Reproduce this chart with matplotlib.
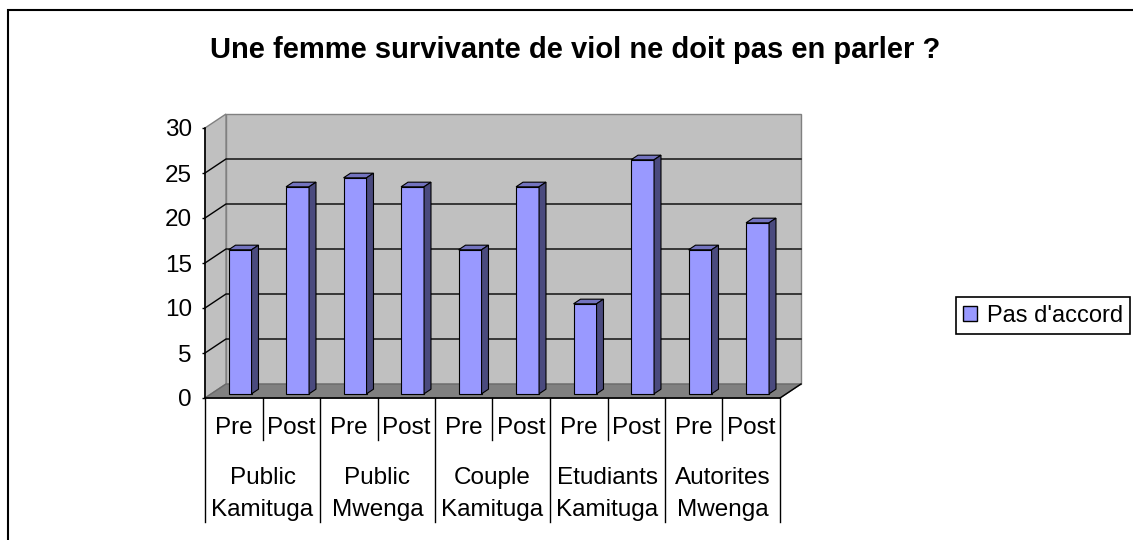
import matplotlib
matplotlib.use("Agg")
import matplotlib.pyplot as plt
import matplotlib.transforms as mtransforms
from matplotlib.patches import Polygon, Rectangle, Patch

plt.rcParams["font.family"] = ["Liberation Sans", "DejaVu Sans"]

# data
groups = ["Public\nKamituga", "Public\nMwenga", "Couple\nKamituga",
          "Etudiants\nKamituga", "Autorites\nMwenga"]
phases = ["Pre", "Post"]
pre_values = [16, 24, 16, 10, 16]
post_values = [23, 23, 23, 26, 19]
series_name = "Pas d'accord"
title = "Une femme survivante de viol ne doit pas en parler ?"
y_ticks = [0, 5, 10, 15, 20, 25, 30]

W, H = 1133, 540
FS = 17.5


def fx(px):
    return px / W


def fy(py):
    return 1 - py / H


fig = plt.figure(figsize=(W / 100, H / 100), dpi=100)
ax = fig.add_axes([fx(205), fy(398), 575 / W, 270 / H])

n_slots = len(groups) * len(phases)
ymax = 30
ax.set_xlim(0, n_slots)
ax.set_ylim(0, ymax)

# depth offsets of the fake 3d box, in data units
dxu = 21 / 57.5
dyu = 14 / 9.0

front_c = "#9999FF"
top_c = "#7373BF"
side_c = "#4A4A7E"
wall_c = "#C0C0C0"
floor_c = "#808080"

# walls and floor
back_wall = Polygon([(dxu, dyu), (n_slots + dxu, dyu), (n_slots + dxu, ymax + dyu), (dxu, ymax + dyu)],
                    closed=True, facecolor=wall_c, edgecolor="#808080", lw=1.0, clip_on=False, zorder=1)
side_wall = Polygon([(0, 0), (dxu, dyu), (dxu, ymax + dyu), (0, ymax)],
                    closed=True, facecolor=wall_c, edgecolor="#808080", lw=1.0, clip_on=False, zorder=1)
floor = Polygon([(0, 0), (n_slots, 0), (n_slots + dxu, dyu), (dxu, dyu)],
                closed=True, facecolor=floor_c, edgecolor="#6a6a6a", lw=1.0, clip_on=False, zorder=1)
for p in (back_wall, side_wall, floor):
    ax.add_patch(p)
ax.plot([n_slots, n_slots + dxu], [0, dyu], color="black", lw=1.0, clip_on=False, zorder=2)

for v in y_ticks[1:-1]:
    ax.plot([0, dxu, n_slots + dxu], [v, v + dyu, v + dyu], color="black", lw=1.0,
            clip_on=False, zorder=2)

# bars
values = []
for a, b in zip(pre_values, post_values):
    values += [a, b]
x = [i + 0.5 for i in range(n_slots)]
f0, depth, bw = 0.3, 0.33, 0.4
ax.bar([xi + f0 * dxu for xi in x], values, width=bw, bottom=f0 * dyu,
       color=front_c, edgecolor="black", lw=0.8, zorder=4, clip_on=False)
for xi, v in zip(x, values):
    xl = xi + f0 * dxu - bw / 2
    xr = xl + bw
    y0 = f0 * dyu
    y1 = y0 + v
    ddx, ddy = depth * dxu, depth * dyu
    top = Polygon([(xl, y1), (xr, y1), (xr + ddx, y1 + ddy), (xl + ddx, y1 + ddy)],
                  closed=True, facecolor=top_c, edgecolor="black", lw=0.8, zorder=4, clip_on=False)
    side = Polygon([(xr, y0), (xr, y1), (xr + ddx, y1 + ddy), (xr + ddx, y0 + ddy)],
                   closed=True, facecolor=side_c, edgecolor="black", lw=0.8, zorder=4, clip_on=False)
    ax.add_patch(top)
    ax.add_patch(side)

# axes styling
for s in ("top", "right", "bottom"):
    ax.spines[s].set_visible(False)
ax.spines["left"].set_linewidth(1.2)
ax.spines["left"].set_zorder(5)
ax.plot([0, n_slots], [0, 0], color="black", lw=1.2, clip_on=False, zorder=5)
ax.set_facecolor("none")
ax.set_yticks(y_ticks)
ax.set_yticklabels([str(t) for t in y_ticks], fontsize=FS)
ax.tick_params(axis="y", direction="out", length=2.5, width=1.0, pad=7)
ax.set_xticks([])

# multi-level category axis
trans = mtransforms.blended_transform_factory(ax.transData, fig.transFigure)
for i in range(n_slots + 1):
    bottom = 522 if i % 2 == 0 else 440
    ax.plot([i, i], [fy(398), fy(bottom)], color="black", lw=1.0, transform=trans, clip_on=False)
for i, xi in enumerate(x):
    ax.text(xi, fy(434), phases[i % 2], ha="center", va="baseline", fontsize=FS, transform=trans)
for g, name in enumerate(groups):
    l1, l2 = name.split("\n")
    ax.text(2 * g + 1, fy(484), l1, ha="center", va="baseline", fontsize=FS, transform=trans)
    ax.text(2 * g + 1, fy(516), l2, ha="center", va="baseline", fontsize=FS, transform=trans)

# title, legend, outer frame
fig.text(fx(575), fy(58), title, ha="center", va="baseline", fontsize=21, fontweight="bold")

leg = fig.legend(handles=[Patch(facecolor=front_c, edgecolor="black", lw=1.0)], labels=[series_name],
                 loc="center left", bbox_to_anchor=(fx(956), fy(315.5)), borderaxespad=0,
                 fontsize=17, fancybox=False, framealpha=1, edgecolor="black",
                 handlelength=0.6, handleheight=0.6, handletextpad=0.4, borderpad=0.3)
leg.get_frame().set_linewidth(1.2)

fig.patches.append(Rectangle((fx(8), fy(570)), fx(1160), 560 / H, transform=fig.transFigure,
                             facecolor="none", edgecolor="black", lw=1.5, clip_on=False))

fig.savefig("out.png", dpi=100)
